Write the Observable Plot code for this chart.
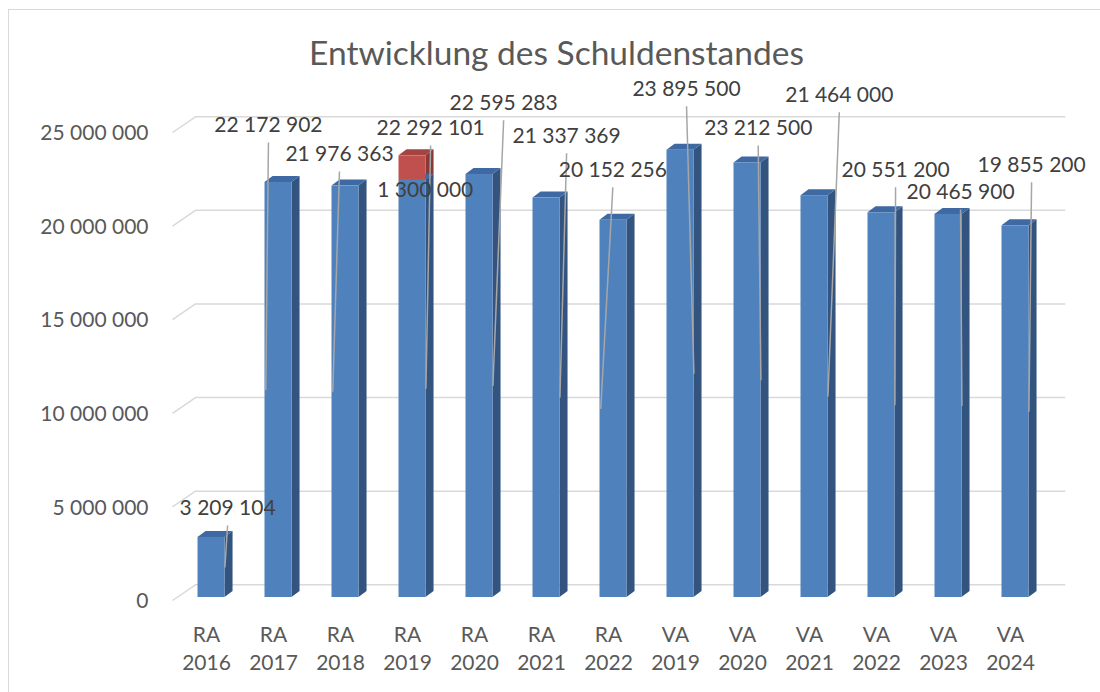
<!DOCTYPE html>
<html><head><meta charset="utf-8">
<script src="https://cdn.jsdelivr.net/npm/d3@7"></script>
<script src="https://cdn.jsdelivr.net/npm/@observablehq/plot@0.6"></script>
<style>
body{margin:0;background:#fff;overflow:hidden;font-family:Lato,"Open Sans",sans-serif}
#wrap{position:relative;width:1100px;height:692px;overflow:hidden;background:#fff}
#frame{position:absolute;left:8px;top:9px;width:1200px;height:800px;border:1.5px solid #d9d9d9;box-sizing:border-box}
#title{position:absolute;left:0;top:32px;width:1113px;text-align:center;font-size:33.5px;line-height:normal;color:#595959;font-family:Lato,sans-serif}
#chart{position:absolute;left:0;top:80px}
</style></head>
<body>
<div id="wrap"><div id="frame"></div><div id="title">Entwicklung des Schuldenstandes</div><div id="chart"></div></div>
<script>
// ---- data ----
const kinds = ["RA","RA","RA","RA","RA","RA","RA","VA","VA","VA","VA","VA","VA"];
const years = ["2016","2017","2018","2019","2020","2021","2022","2019","2020","2021","2022","2023","2024"];
const debt  = [3209104, 22172902, 21976363, 22292101, 22595283, 21337369, 20152256, 23895500, 23212500, 21464000, 20551200, 20465900, 19855200];
const extra = [0, 0, 0, 1300000, 0, 0, 0, 0, 0, 0, 0, 0, 0];
const yTicks = [0, 5000000, 10000000, 15000000, 20000000, 25000000];
// manually placed data labels (category offset, value position in millions)
const labelDx = [0.24, -0.15, -0.09, 0.27, 0.36, 0.30, -0.01, 0.09, 0.16, 0.37, 0.21, 0.18, 0.24];
const labelAt = [4.75, 25.21, 23.66, 25.05, 26.39, 24.63, 22.81, 27.14, 25.05, 26.82, 22.81, 21.63, 23.08];
const extraLabelDx = [0, 0, 0, 0.19, 0, 0, 0, 0, 0, 0, 0, 0, 0];
const extraLabelAt = [0, 0, 0, 21.74, 0, 0, 0, 0, 0, 0, 0, 0, 0];

// ---- styling / 3D projection ----
const blue = {front:"#4f81bd", side:"#32547f", top:"#3f69a3"};
const red  = {front:"#c0504d", side:"#8a3735", top:"#a54340"};
const hw = 0.2015, depX = 0.12, depY = 0.32e6;
const fmt = v => d3.format(",")(v).replace(/,/g, " ");
const idx = debt.map((_, i) => i);

const segs = [];
idx.forEach(i => {
  segs.push({i, b: 0, t: debt[i], c: blue, key: "b" + i});
  if (extra[i] > 0) segs.push({i, b: debt[i], t: debt[i] + extra[i], c: red, key: "r" + i});
});
const sidePts = segs.flatMap(s => [
  {key: s.key, x: s.i + hw, y1: s.b, y2: s.t, fill: s.c.side},
  {key: s.key, x: s.i + hw + depX, y1: s.b + depY, y2: s.t + depY, fill: s.c.side}
]);
const topPts = segs.flatMap(s => [
  {key: s.key, y: s.t, x1: s.i - hw, x2: s.i + hw, fill: s.c.top},
  {key: s.key, y: s.t + depY, x1: s.i - hw + depX, x2: s.i + hw + depX, fill: s.c.top}
]);
const extraIdx = idx.filter(i => extra[i] > 0);

const chart = Plot.plot({
  width: 1100, height: 612,
  marginLeft: 177.5, marginRight: 51.5, marginTop: 49, marginBottom: 95,
  x: {domain: [-0.5, 12.5], axis: null},
  y: {domain: [0, 25000000], axis: null},
  color: {type: "identity"},
  style: {fontFamily: "Lato, sans-serif", overflow: "visible", background: "transparent"},
  marks: [
    Plot.ruleY(yTicks, {y: d => d + 0.68e6, x1: -0.239, x2: 12.75, stroke: "#d9d9d9", strokeWidth: 1.5}),
    Plot.link(yTicks, {x1: -0.582, y1: d => d - 0.16e6, x2: -0.239, y2: d => d + 0.68e6, stroke: "#d9d9d9", strokeWidth: 1.5}),
    Plot.text(yTicks, {x: -0.5, y: d => d, dx: -29.5, dy: 4, textAnchor: "end", text: d => fmt(d), fontSize: 21, fill: "#595959"}),
    Plot.areaY(sidePts, {x: "x", y1: "y1", y2: "y2", z: "key", fill: "fill", curve: "linear"}),
    Plot.areaX(topPts, {y: "y", x1: "x1", x2: "x2", z: "key", fill: "fill", curve: "linear"}),
    Plot.rectY(segs, {x1: s => s.i - hw, x2: s => s.i + hw, y1: "b", y2: "t", fill: s => s.c.front, insetTop: 0, insetBottom: 0}),
    Plot.link(idx, {
      x1: i => i + labelDx[i], y1: i => labelAt[i] * 1e6 - 0.9e6,
      x2: i => i + (labelDx[i] >= 0 ? 0.2 : -0.19), y2: i => debt[i] / 2,
      stroke: "#a6a6a6", strokeWidth: 1.5
    }),
    Plot.text(idx, {x: i => i + labelDx[i], y: i => labelAt[i] * 1e6, text: i => fmt(debt[i]), fontSize: 21, fill: "#404040"}),
    Plot.text(extraIdx, {x: i => i + extraLabelDx[i], y: i => extraLabelAt[i] * 1e6, text: i => fmt(extra[i]), fontSize: 21, fill: "#404040"}),
    Plot.text(idx, {x: i => i, y: 0, dx: -5, dy: 38, text: i => kinds[i], fontSize: 21, fill: "#595959"}),
    Plot.text(idx, {x: i => i, y: 0, dx: -5, dy: 66, text: i => years[i], fontSize: 21, fill: "#595959"})
  ]
});
document.getElementById("chart").appendChild(chart);
</script>
</body></html>
